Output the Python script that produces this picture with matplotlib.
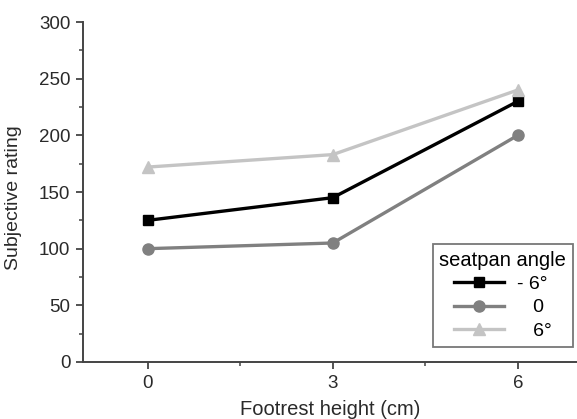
import matplotlib
matplotlib.use("Agg")
import matplotlib.pyplot as plt
from matplotlib.ticker import MultipleLocator

plt.rcParams['font.family'] = ['Liberation Sans', 'DejaVu Sans']

footrest = [0, 3, 6]
neg6 = [125, 145, 230]
zero = [100, 105, 200]
pos6 = [172, 183, 240]
labels = ["- 6°", "   0", "   6°"]

fig = plt.figure(figsize=(5.77, 4.19), dpi=100)
ax = fig.add_axes([83/577, 1 - 362/419, 1 - 83/577, 340/419])

ax.plot(footrest, neg6, color='black', lw=2.4, marker='s', ms=7.5, label=labels[0])
ax.plot(footrest, zero, color='#808080', lw=2.4, marker='o', ms=8, label=labels[1])
ax.plot(footrest, pos6, color='#c4c4c4', lw=2.4, marker='^', ms=8, label=labels[2])

ax.set_xlim(-1.05, 6.96)
ax.set_ylim(0, 300)
ax.set_xticks([0, 3, 6])
ax.xaxis.set_minor_locator(MultipleLocator(1.5))
ax.yaxis.set_major_locator(MultipleLocator(50))
ax.yaxis.set_minor_locator(MultipleLocator(25))
for s in ['top', 'right']:
    ax.spines[s].set_visible(False)
for s in ['left', 'bottom']:
    ax.spines[s].set_color('#444444')
    ax.spines[s].set_linewidth(1.4)
ax.tick_params(which='major', direction='out', length=5, width=1.3, color='#444444',
               labelsize=13.5, labelcolor='#2a2a2a', pad=4)
ax.tick_params(which='minor', direction='out', length=3, width=1.1, color='#444444')

ax.set_xlabel("Footrest height (cm)", fontsize=14.5, color='#2a2a2a', labelpad=6)
ax.set_ylabel("Subjective rating", fontsize=14, color='#2a2a2a')
ax.yaxis.set_label_coords(-0.124, 0.482)

leg = ax.legend(title="seatpan angle", loc='lower right', bbox_to_anchor=(0.992, 0.045),
                frameon=True, fancybox=False, fontsize=14, title_fontsize=14.5,
                handlelength=2.6, borderpad=0.35, labelspacing=0.3, handletextpad=0.65,
                borderaxespad=0.0)
leg.get_frame().set_edgecolor('#555555')
leg.get_frame().set_linewidth(1.3)

fig.savefig("out.png", dpi=100)
